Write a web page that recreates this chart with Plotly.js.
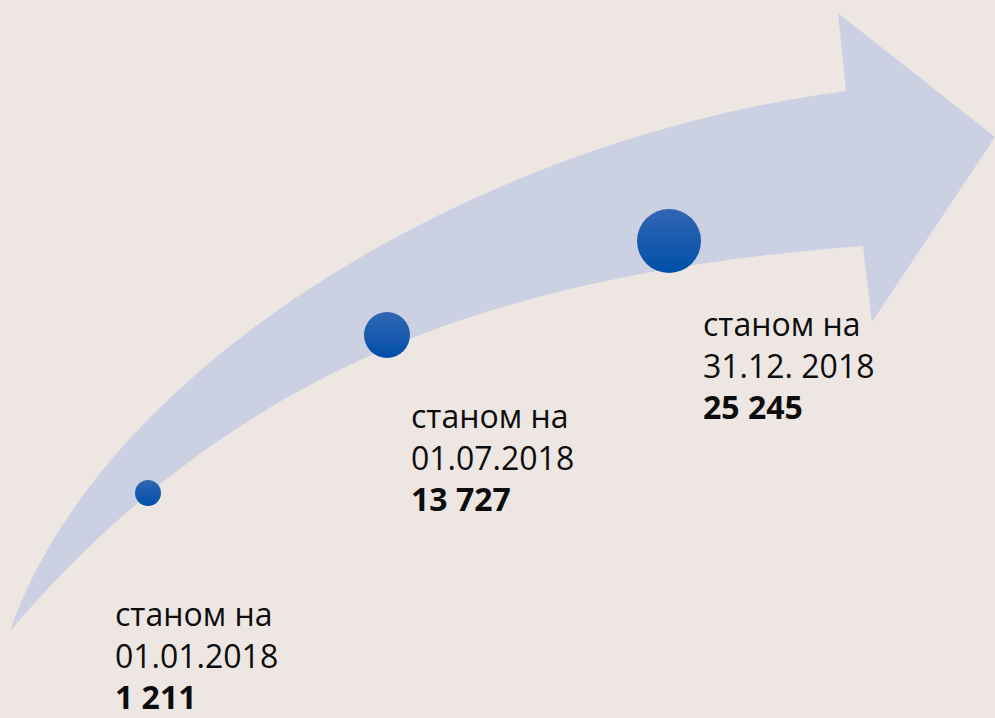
<!DOCTYPE html>
<html>
<head>
<meta charset="utf-8">
<script src="https://cdn.plot.ly/plotly-3.0.1.min.js"></script>
<style>html,body{margin:0;padding:0;background:#EEE6E3;}#chart{width:995px;height:718px;}</style>
</head>
<body>
<div id="chart"></div>
<script>
// ---- data ----
var prefix = 'станом на';
var dates = ['01.01.2018', '01.07.2018', '31.12. 2018'];
var values = [1211, 13727, 25245];

// ---- layout config (positions / sizes / styles) ----
var circleX = [148, 387, 669];
var circleY = [493, 335, 241];
var circleSize = [26, 46, 64];
var labelX = [113, 409, 701];
var labelY = [590, 392, 300];

function fmt(v) {
  return String(v).replace(/\B(?=(\d{3})+(?!\d))/g, ' ');
}

var trace = {
  type: 'scatter',
  mode: 'markers',
  x: circleX,
  y: circleY,
  hoverinfo: 'skip',
  marker: {
    size: circleSize,
    opacity: 1,
    color: '#3366B3',
    gradient: {type: 'vertical', color: '#004FA9'},
    line: {width: 0}
  }
};

var annotations = dates.map(function (d, i) {
  return {
    xref: 'x', yref: 'y',
    x: labelX[i], y: labelY[i],
    xanchor: 'left', yanchor: 'top', align: 'left',
    showarrow: false,
    text: prefix + '<br>' + d + '<br><b>' + fmt(values[i]) + '</b>',
    font: {family: 'Open Sans, sans-serif', size: 32, color: '#0D0D0D'}
  };
});

var layout = {
  width: 995, height: 718,
  margin: {l: 0, r: 0, t: 0, b: 0},
  paper_bgcolor: '#EEE6E3',
  plot_bgcolor: '#EEE6E3',
  showlegend: false,
  xaxis: {range: [0, 995], visible: false, fixedrange: true},
  yaxis: {range: [718, 0], visible: false, fixedrange: true},
  shapes: [{
    type: 'path', xref: 'x', yref: 'y', layer: 'below',
    path: 'M 10 631 C 100 370 470 140 846 91 L 838 13 L 995 137 L 872 322 L 863 246 C 480 275 230 375 10 631 Z',
    fillcolor: '#CBD1E2',
    line: {width: 0}
  }],
  annotations: annotations
};

Plotly.newPlot('chart', [trace], layout, {staticPlot: true, displayModeBar: false});
</script>
</body>
</html>
